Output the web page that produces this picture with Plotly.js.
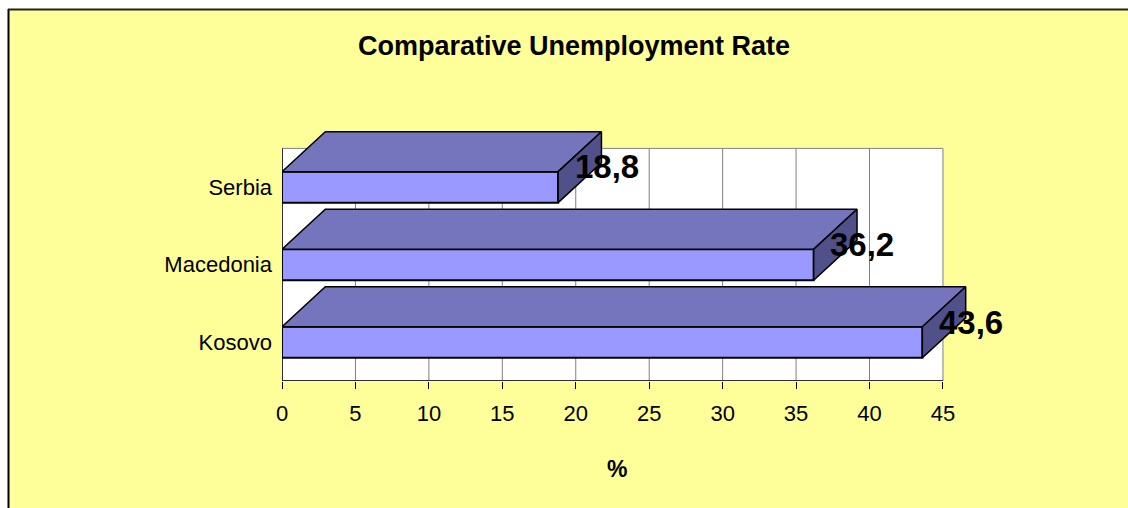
<!DOCTYPE html>
<html>
<head>
<meta charset="utf-8">
<script src="https://cdn.plot.ly/plotly-3.0.1.min.js"></script>
<style>
  html, body { margin: 0; padding: 0; background: #ffffff; overflow: hidden; }
  #chart { width: 1128px; height: 508px; }
</style>
</head>
<body>
<div id="chart"></div>
<script>
// ---- data ----
const categories = ['Kosovo', 'Macedonia', 'Serbia'];
const rates = [43.6, 36.2, 18.8];
const rateLabels = ['43,6', '36,2', '18,8'];
const xTicks = [0, 5, 10, 15, 20, 25, 30, 35, 40, 45];
const titleText = 'Comparative Unemployment Rate';
const xTitleText = '%';

// ---- geometry / style ----
const W = 1128, H = 508;
const mL = 282, mR = 141, mT = 129, mB = 127;
const plotW = W - mL - mR, plotH = H - mT - mB;
const xRange = [0, 48];
const yRange = [-0.5, 2.75];
const wallMax = 45;
const halfW = 0.2;          // half bar thickness (category units)
const dX = 2.95;            // 3D depth in x units
const dY = 0.515;           // 3D depth in category units
const FONT = '"Liberation Sans Narrow", "Arial Narrow", "Liberation Sans", Arial, sans-serif';
const frontColor = '#9999FF';
const topColor = '#7575BD';
const sideColor = '#50508A';

const pxToPaperX = px => (px - mL) / plotW;
const pxToPaperY = py => (H - mB - py) / plotH;

const yPos = categories.map((c, i) => i);

const traces = [];
// front faces
traces.push({
  type: 'bar', orientation: 'h',
  x: rates, y: yPos, width: 0.4,
  marker: { color: frontColor, line: { color: '#000000', width: 2 } },
  hoverinfo: 'skip', showlegend: false
});
// top and side faces
rates.forEach((v, i) => {
  const c = yPos[i];
  traces.push({
    type: 'scatter', mode: 'lines', fill: 'toself', fillcolor: topColor,
    x: [0, v, v + dX, dX, 0],
    y: [c + halfW, c + halfW, c + halfW + dY, c + halfW + dY, c + halfW],
    line: { color: '#000000', width: 1.5 }, hoverinfo: 'skip', showlegend: false
  });
  traces.push({
    type: 'scatter', mode: 'lines', fill: 'toself', fillcolor: sideColor,
    x: [v, v, v + dX, v + dX, v],
    y: [c - halfW, c + halfW, c + halfW + dY, c - halfW + dY, c - halfW],
    line: { color: '#000000', width: 1.5 }, hoverinfo: 'skip', showlegend: false
  });
});

const shapes = [];
// yellow chart area with left/top border
shapes.push({ type: 'rect', xref: 'paper', yref: 'paper', layer: 'below',
  x0: pxToPaperX(8), x1: pxToPaperX(W), y0: pxToPaperY(H), y1: pxToPaperY(9),
  fillcolor: '#FFFF99', line: { width: 0 } });
shapes.push({ type: 'line', xref: 'paper', yref: 'paper', layer: 'below',
  x0: pxToPaperX(8.5), x1: pxToPaperX(8.5), y0: pxToPaperY(H), y1: pxToPaperY(9),
  line: { color: '#000000', width: 2 } });
shapes.push({ type: 'line', xref: 'paper', yref: 'paper', layer: 'below',
  x0: pxToPaperX(8), x1: pxToPaperX(W), y0: pxToPaperY(9.5), y1: pxToPaperY(9.5),
  line: { color: '#222222', width: 2 } });
// white wall
shapes.push({ type: 'rect', xref: 'x', yref: 'y', layer: 'below',
  x0: 0, x1: wallMax, y0: yRange[0], y1: categories.length - 0.5,
  fillcolor: '#FFFFFF', line: { color: '#808080', width: 1 } });
// gridlines
xTicks.filter(t => t > 0 && t < wallMax).forEach(t => {
  shapes.push({ type: 'line', xref: 'x', yref: 'y', layer: 'below',
    x0: t, x1: t, y0: yRange[0], y1: categories.length - 0.5,
    line: { color: '#808080', width: 1 } });
});
// left and bottom axis lines
shapes.push({ type: 'line', xref: 'x', yref: 'y', layer: 'below',
  x0: 0, x1: 0, y0: yRange[0], y1: categories.length - 0.5,
  line: { color: '#000000', width: 1.5 } });
shapes.push({ type: 'line', xref: 'x', yref: 'y', layer: 'below',
  x0: 0, x1: wallMax, y0: yRange[0], y1: yRange[0],
  line: { color: '#000000', width: 1.5 } });

const annotations = rates.map((v, i) => ({
  xref: 'x', yref: 'y', x: v + 1.0, y: yPos[i] + 0.26,
  text: rateLabels[i], showarrow: false, xanchor: 'left', yanchor: 'middle',
  font: { family: FONT, size: 33, color: '#000000', weight: 'bold' }
}));
annotations.push({
  xref: 'paper', yref: 'paper', x: pxToPaperX(617), y: pxToPaperY(469),
  text: '<b>' + xTitleText + '</b>', showarrow: false, xanchor: 'center', yanchor: 'middle',
  font: { family: FONT, size: 23, color: '#000000' }
});

const layout = {
  width: W, height: H,
  margin: { l: mL, r: mR, t: mT, b: mB, pad: 0 },
  paper_bgcolor: '#FFFFFF',
  plot_bgcolor: 'rgba(0,0,0,0)',
  title: {
    text: '<b>' + titleText + '</b>',
    xref: 'container', yref: 'container', x: 574 / W, y: 1 - 46 / H,
    xanchor: 'center', yanchor: 'middle',
    font: { family: FONT, size: 27, color: '#000000' }
  },
  xaxis: {
    range: xRange, tickvals: xTicks, ticktext: xTicks.map(String),
    showgrid: false, zeroline: false, showline: false,
    ticks: 'outside', ticklen: 7, tickcolor: '#000000', tickwidth: 1,
    tickfont: { family: FONT, size: 22, color: '#000000' },
    ticklabelstandoff: 6,
    automargin: false, fixedrange: true
  },
  yaxis: {
    range: yRange, tickvals: yPos, ticktext: categories,
    showgrid: false, zeroline: false, showline: false, ticks: '',
    tickfont: { family: FONT, size: 22, color: '#000000' },
    ticklabelstandoff: 9,
    automargin: false, fixedrange: true
  },
  shapes: shapes,
  annotations: annotations,
  showlegend: false,
  bargap: 0
};

Plotly.newPlot('chart', traces, layout, { displayModeBar: false, staticPlot: true });
</script>
</body>
</html>
